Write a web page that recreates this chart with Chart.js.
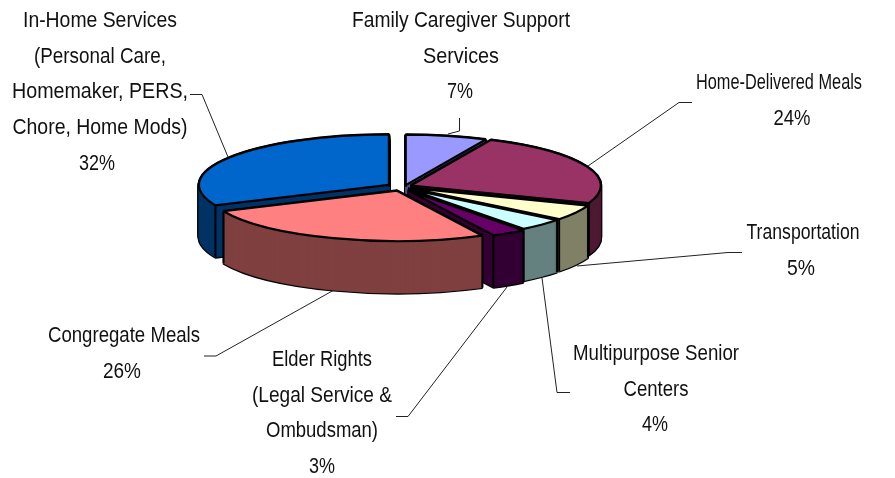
<!DOCTYPE html>
<html><head><meta charset="utf-8">
<style>html,body{margin:0;padding:0;background:#fff}canvas{display:block}</style>
<script src="https://cdn.jsdelivr.net/npm/chart.js@4"></script>
</head><body><canvas id="c" width="895" height="478"></canvas>
<script>
const categories = [
  ["Family Caregiver Support","Services"],
  ["Home-Delivered Meals"],
  ["Transportation"],
  ["Multipurpose Senior","Centers"],
  ["Elder Rights","(Legal Service &","Ombudsman)"],
  ["Congregate Meals"],
  ["In-Home Services","(Personal Care,","Homemaker, PERS,","Chore, Home Mods)"]
];
const shares = [7, 24, 5, 4, 3, 26, 32];
const topColors = ["#9999FF","#993366","#FFFFCC","#CCFFFF","#660066","#FF8080","#0066CC"];
const wallColors = ["#4C4C80","#4D1933","#808066","#668080","#330033","#804040","#003366"];
const labelCenters = [[461,20],[779,82],[803,232],[656,353],[322,359],[124,335],[100,20]];
const percentCenters = [460,792,801,655,322,122,97];
const labelWidths = [[218,76,26],[166,37],[113,28],[166,65,26],[100,140,112,26],[152,38],[154,132,176,175,36]];
const leaders = [
  [[459.5,118],[459.5,131],[448,134]],
  [[692,102.5],[679,102.5],[588,166]],
  [[742,252.5],[728,252.5],[577,266]],
  [[570,392.5],[557,392.5],[542,278]],
  [[396,416.5],[408,416.5],[507,287]],
  [[204,356],[216,356],[334,290]],
  [[190,94.5],[202,94.5],[228,157]]
];
const sliceNudge = [[1.5,2],[-4,0],[-4,-1],[-3.5,-1],[-1,0],[1,0],[0.5,0]];
const pieX = 401, pieY = 187, tilt = 0.265, depth = 52, explode = 15, lineStep = 35.7;

function withScreenStroke(ctx, fn){
  const orig = ctx.stroke;
  ctx.stroke = function(){ ctx.save(); ctx.setTransform(1,0,0,1,0,0); orig.call(ctx); ctx.restore(); };
  fn();
  delete ctx.stroke;
}
function placed(ctx, el, i, d, fn){
  const half = (el.startAngle + el.endAngle) / 2;
  ctx.save();
  ctx.translate(pieX + sliceNudge[i][0], pieY + sliceNudge[i][1] + d);
  ctx.scale(1, tilt);
  ctx.translate(Math.cos(half) * explode, Math.sin(half) * explode);
  ctx.translate(-el.x, -el.y);
  fn();
  ctx.restore();
}
function paint(ctx, el, fill, border, width){
  const o = el.options, keep = [o.backgroundColor, o.borderColor, o.borderWidth];
  o.backgroundColor = fill; o.borderColor = border; o.borderWidth = width;
  el.draw(ctx);
  [o.backgroundColor, o.borderColor, o.borderWidth] = keep;
}
const pie3d = {
  id: 'pie3d',
  beforeDatasetDraw(chart, args){
    const ctx = chart.ctx, arcs = chart.getDatasetMeta(args.index).data;
    const order = arcs.map((el,i)=>i).sort((a,b)=>
      Math.sin((arcs[a].startAngle+arcs[a].endAngle)/2) - Math.sin((arcs[b].startAngle+arcs[b].endAngle)/2));
    withScreenStroke(ctx, () => {
      for (const i of order){
        const el = arcs[i];
        for (let d = depth; d >= 0; d--) placed(ctx, el, i, d, () => paint(ctx, el, '#000', '#000', 2.8));
        for (let d = depth; d >= 0; d--) placed(ctx, el, i, d, () => paint(ctx, el, wallColors[i], wallColors[i], 0.5));
        const half = (el.startAngle + el.endAngle) / 2;
        ctx.strokeStyle = '#000'; ctx.lineWidth = 2; ctx.lineCap = 'butt';
        for (const a of [el.startAngle, el.endAngle]){
          const x = pieX + sliceNudge[i][0] + Math.cos(half)*explode + Math.cos(a)*el.outerRadius;
          const y = pieY + sliceNudge[i][1] + tilt*(Math.sin(half)*explode + Math.sin(a)*el.outerRadius);
          ctx.beginPath(); ctx.moveTo(x, y); ctx.lineTo(x, y + depth); ctx.stroke();
        }
        placed(ctx, el, i, 0, () => paint(ctx, el, topColors[i], '#000', 2.2));
      }
    });
    return false;
  },
  afterDraw(chart){
    const ctx = chart.ctx;
    ctx.save();
    ctx.strokeStyle = '#222'; ctx.lineWidth = 1;
    leaders.forEach(pts => {
      ctx.beginPath();
      pts.forEach((p,i) => i ? ctx.lineTo(p[0],p[1]) : ctx.moveTo(p[0],p[1]));
      ctx.stroke();
    });
    ctx.fillStyle = '#111';
    ctx.font = '22px "Liberation Sans"';
    ctx.textAlign = 'center'; ctx.textBaseline = 'middle';
    categories.forEach((lines,i) => {
      const all = lines.concat(shares[i] + '%');
      all.forEach((t,j) => {
        const x = j === lines.length ? percentCenters[i] : labelCenters[i][0];
        ctx.fillText(t, x, labelCenters[i][1] + 1 + j*lineStep, labelWidths[i][j]);
      });
    });
    ctx.restore();
  }
};
new Chart(document.getElementById('c'), {
  type: 'pie',
  data: { labels: categories.map(l => l.join(' ')),
    datasets: [{ data: shares, backgroundColor: topColors, borderColor: '#000', borderWidth: 2, radius: 190 }] },
  options: { responsive:false, animation:false, radius:190,
    layout:{padding:0},
    plugins:{ legend:{display:false}, tooltip:{enabled:false} },
    events: [] },
  plugins: [pie3d]
});
</script></body></html>
